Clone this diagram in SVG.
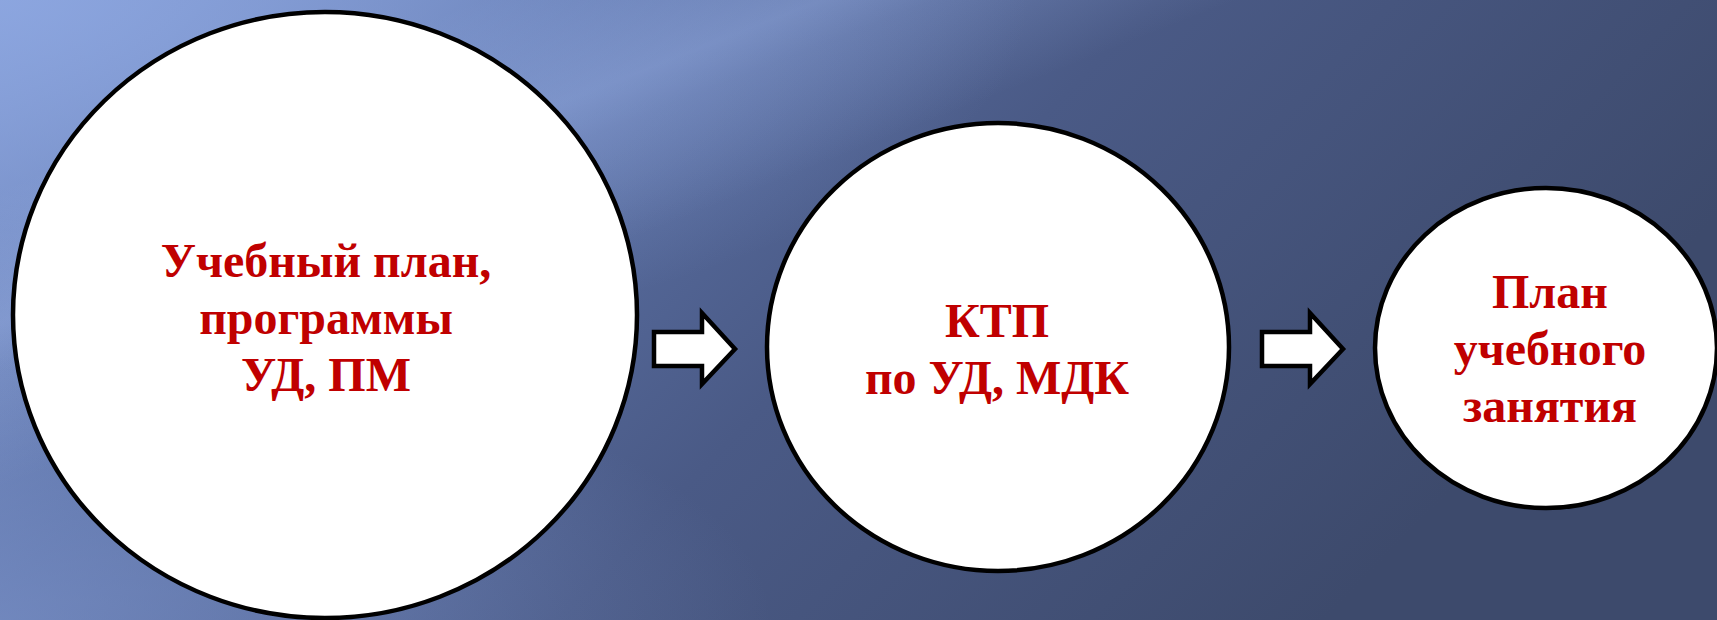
<svg xmlns="http://www.w3.org/2000/svg" width="1717" height="620" viewBox="0 0 1717 620">
  <defs>
    <linearGradient id="bg" x1="0" y1="0" x2="1" y2="0.35">
      <stop offset="0" stop-color="#7f97cf"/>
      <stop offset="0.3" stop-color="#5d73a8"/>
      <stop offset="0.6" stop-color="#4a5a86"/>
      <stop offset="1" stop-color="#3d4a6c"/>
    </linearGradient>
    <linearGradient id="streak" x1="0.28" y1="0" x2="0.52" y2="0.22">
      <stop offset="0" stop-color="#9fb6ea" stop-opacity="0"/>
      <stop offset="0.45" stop-color="#9fb6ea" stop-opacity="0.38"/>
      <stop offset="0.6" stop-color="#9fb6ea" stop-opacity="0.22"/>
      <stop offset="1" stop-color="#9fb6ea" stop-opacity="0"/>
    </linearGradient>
    <radialGradient id="glow" cx="0" cy="0" r="0.6">
      <stop offset="0" stop-color="#8fa9e3" stop-opacity="0.8"/>
      <stop offset="1" stop-color="#8fa9e3" stop-opacity="0"/>
    </radialGradient>
    <radialGradient id="glowbl" cx="0" cy="1" r="0.45">
      <stop offset="0" stop-color="#7e95cc" stop-opacity="0.6"/>
      <stop offset="1" stop-color="#7e95cc" stop-opacity="0"/>
    </radialGradient>
  </defs>
  <style>
    .node { fill: #ffffff; stroke: #000000; stroke-width: 4.5; }
    .arrow { fill: #ffffff; stroke: #000000; stroke-width: 4.5; stroke-linejoin: miter; }
    .label { font-family: "Liberation Serif", "Times New Roman", serif; font-weight: bold; font-size: 48px; fill: #c00000; text-anchor: middle; }
  </style>
  <rect x="0" y="0" width="1717" height="620" fill="url(#bg)"/>
  <rect x="0" y="0" width="1717" height="620" fill="url(#streak)"/>
  <rect x="0" y="0" width="1717" height="620" fill="url(#glow)"/>
  <rect x="0" y="0" width="1717" height="620" fill="url(#glowbl)"/>

  <g id="connectors">
    <path class="arrow" d="M654 332 L702 332 L702 313 L735 349 L702 384 L702 366 L654 366 Z"/>
    <path class="arrow" d="M1262 332 L1310 332 L1310 313 L1343 349 L1310 384 L1310 366 L1262 366 Z"/>
  </g>

  <g id="node-1">
    <ellipse class="node" cx="325" cy="315" rx="312" ry="303"/>
    <text class="label" x="326" y="277">Учебный план,</text>
    <text class="label" x="326" y="334">программы</text>
    <text class="label" x="326" y="391">УД, ПМ</text>
  </g>

  <g id="node-2">
    <ellipse class="node" cx="998" cy="347" rx="231" ry="224"/>
    <text class="label" x="997" y="337">КТП</text>
    <text class="label" x="997" y="394">по УД, МДК</text>
  </g>

  <g id="node-3">
    <ellipse class="node" cx="1546" cy="348" rx="171" ry="160"/>
    <text class="label" x="1550" y="308">План</text>
    <text class="label" x="1550" y="365">учебного</text>
    <text class="label" x="1550" y="422">занятия</text>
  </g>
</svg>
